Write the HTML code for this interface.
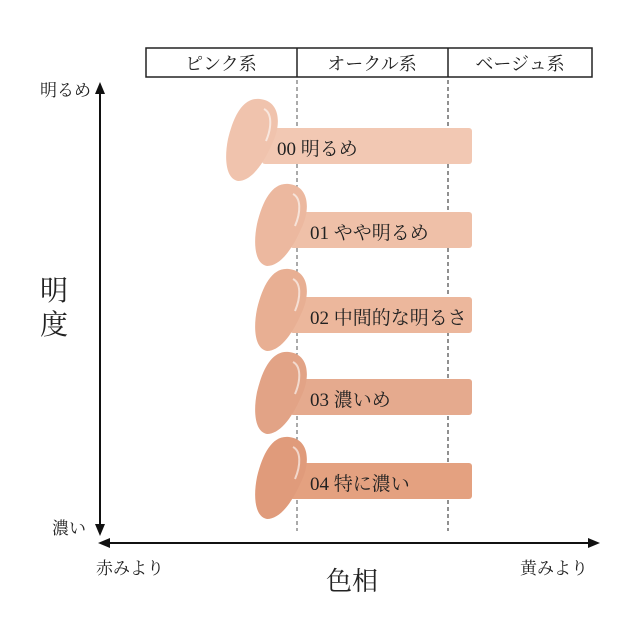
<!DOCTYPE html><html><head><meta charset="utf-8"><style>body{margin:0;background:#fff}svg{display:block}text{font-family:"Liberation Serif","Noto Serif CJK SC",serif;fill:#222}</style></head><body>
<svg width="640" height="640" viewBox="0 0 640 640">
<defs>
<path id="blob" d="M8,-40 C28,-38 30,-15 20,5 C10,28 -2,42 -14,42 C-26,40 -28,20 -24,0 C-18,-25 -8,-42 8,-40 Z"/>
<path id="hl" d="M12,-30 C20,-26 20,-12 14,2" fill="none" stroke="#fff" stroke-opacity="0.6" stroke-width="2"/>
</defs>
<rect x="146" y="48" width="446" height="29" fill="#fff" stroke="#222" stroke-width="1.5"/>
<line x1="297" y1="48" x2="297" y2="77" stroke="#222" stroke-width="1.5"/>
<line x1="448" y1="48" x2="448" y2="77" stroke="#222" stroke-width="1.5"/>
<text x="221" y="70" font-size="18" text-anchor="middle">ピンク系</text>
<text x="372" y="70" font-size="18" text-anchor="middle">オークル系</text>
<text x="520" y="70" font-size="18" text-anchor="middle">ベージュ系</text>
<line x1="297" y1="80" x2="297" y2="531" stroke="#555" stroke-dasharray="4,3"/>
<line x1="448" y1="80" x2="448" y2="531" stroke="#222" stroke-dasharray="4,3"/>
<line x1="100" y1="92" x2="100" y2="525" stroke="#111" stroke-width="2"/>
<polygon points="100,82 95,94 105,94" fill="#111"/>
<polygon points="100,536 95,524 105,524" fill="#111"/>
<line x1="108" y1="543" x2="590" y2="543" stroke="#111" stroke-width="2"/>
<polygon points="98,543 110,538 110,548" fill="#111"/>
<polygon points="600,543 588,538 588,548" fill="#111"/>
<text x="40" y="96" font-size="17">明るめ</text>
<text x="52" y="534" font-size="17">濃い</text>
<text x="40" y="300" font-size="28">明</text>
<text x="40" y="334" font-size="28">度</text>
<text x="96" y="574" font-size="17">赤みより</text>
<text x="520" y="574" font-size="17">黄みより</text>
<text x="326" y="590" font-size="26">色相</text>
<g>
<rect x="262" y="128" width="210" height="36" rx="3" fill="#F2C8B3"/>
<use href="#blob" transform="translate(252,139)" fill="#F0C3AD"/>
<use href="#hl" transform="translate(252,139)"/>
<text x="277" y="155" font-size="19">00 明るめ</text>
<rect x="290" y="212" width="182" height="36" rx="3" fill="#EFC0A8"/>
<use href="#blob" transform="translate(281,224)" fill="#ECB89F"/>
<use href="#hl" transform="translate(281,224)"/>
<text x="310" y="239" font-size="19">01 やや明るめ</text>
<rect x="290" y="297" width="182" height="36" rx="3" fill="#ECB79C"/>
<use href="#blob" transform="translate(281,309)" fill="#E8AF93"/>
<use href="#hl" transform="translate(281,309)"/>
<text x="310" y="324" font-size="19">02 中間的な明るさ</text>
<rect x="290" y="379" width="182" height="36" rx="3" fill="#E5AA8E"/>
<use href="#blob" transform="translate(281,392)" fill="#E2A386"/>
<use href="#hl" transform="translate(281,392)"/>
<text x="310" y="406" font-size="19">03 濃いめ</text>
<rect x="290" y="463" width="182" height="36" rx="3" fill="#E4A180"/>
<use href="#blob" transform="translate(281,477)" fill="#E09B7B"/>
<use href="#hl" transform="translate(281,477)"/>
<text x="310" y="490" font-size="19">04 特に濃い</text>
</g>
</svg></body></html>
